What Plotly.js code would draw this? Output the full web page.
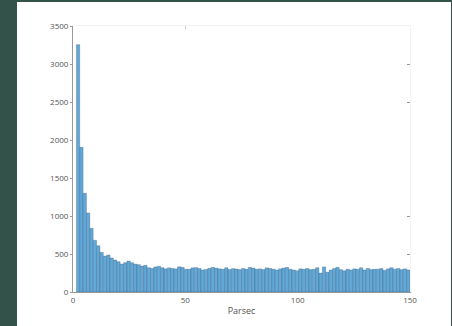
<!DOCTYPE html>
<html>
<head>
<meta charset="utf-8">
<script src="https://cdn.plot.ly/plotly-3.0.1.min.js"></script>
<style>
html,body{margin:0;padding:0;background:#33524a;width:452px;height:326px;overflow:hidden;}
#panel{position:absolute;left:17px;top:2px;width:434px;height:324px;background:#fff;}
#chart{width:434px;height:324px;}
</style>
</head>
<body>
<div id="panel"><div id="chart"></div></div>
<script>
// Histogram data: distance to stars (parsec), bin width and counts
const binStart = 1.5;
const binWidth = 1.5;
const counts = [
  3255, 1904, 1300, 1040, 838, 680, 609, 522, 474, 487,
  447, 421, 399, 368, 386, 408, 386, 368, 360,
  342, 352, 320, 311, 330, 338, 320, 305, 318, 310, 305, 332, 325, 300, 300,
  318, 322, 310, 290, 298, 312, 325, 315, 305, 300, 320, 296, 308, 303, 295, 310, 300, 325, 315, 300,
  305, 295, 318, 310, 300, 290, 305, 315, 325, 300, 290, 280, 305, 300, 310, 295, 300, 320, 250, 330,
  260, 290, 310, 325, 295, 280, 300, 290, 305, 300, 320, 290, 310, 295, 300, 300, 310, 285, 305, 320, 300, 310, 295, 305, 290
];
const xTicks = [0, 50, 100, 150];
const yTicks = [0, 500, 1000, 1500, 2000, 2500, 3000, 3500];
const xTitle = "Parsec";

const centers = counts.map((c, i) => binStart + binWidth * (i + 0.5));

const trace = {
  type: 'bar',
  x: centers,
  y: counts,
  width: binWidth,
  marker: {color: '#61a8d8', line: {color: 'rgba(10,25,40,0.38)', width: 0.5}},
  hoverinfo: 'x+y'
};

const layout = {
  width: 434, height: 324,
  margin: {l: 56, r: 41, t: 24, b: 34},
  paper_bgcolor: '#ffffff',
  plot_bgcolor: '#ffffff',
  showlegend: false,
  bargap: 0,
  font: {family: 'Open Sans, sans-serif', size: 8, color: '#555'},
  xaxis: {
    range: [0, 150], tickvals: xTicks, ticktext: xTicks.map(String),
    showgrid: false, zeroline: false, showline: true, linecolor: '#999', linewidth: 1,
    ticks: '', ticklen: 0,
    title: {text: xTitle, font: {size: 9, color: '#555'}, standoff: 4}
  },
  yaxis: {
    range: [0, 3500], tickvals: yTicks, ticktext: yTicks.map(String),
    showgrid: false, zeroline: false, showline: true, linecolor: '#999', linewidth: 1,
    ticks: 'outside', ticklen: 2, tickcolor: '#999'
  },
  xaxis2: {
    overlaying: 'x', side: 'top', range: [0, 150], tickvals: [50],
    showticklabels: false, showgrid: false, zeroline: false,
    showline: true, linecolor: '#f3f3f3', ticks: 'inside', ticklen: 3, tickcolor: '#ccc'
  },
  yaxis2: {
    overlaying: 'y', side: 'right', range: [0, 3500], tickvals: [500, 1000, 2500, 3000],
    showticklabels: false, showgrid: false, zeroline: false,
    showline: true, linecolor: '#f3f3f3', ticks: 'inside', ticklen: 3, tickcolor: '#999'
  }
};

const ghost = {type: 'scatter', x: [], y: [], xaxis: 'x2', yaxis: 'y2', hoverinfo: 'skip'};

Plotly.newPlot('chart', [trace, ghost], layout, {displayModeBar: false, staticPlot: true});
</script>
</body>
</html>
